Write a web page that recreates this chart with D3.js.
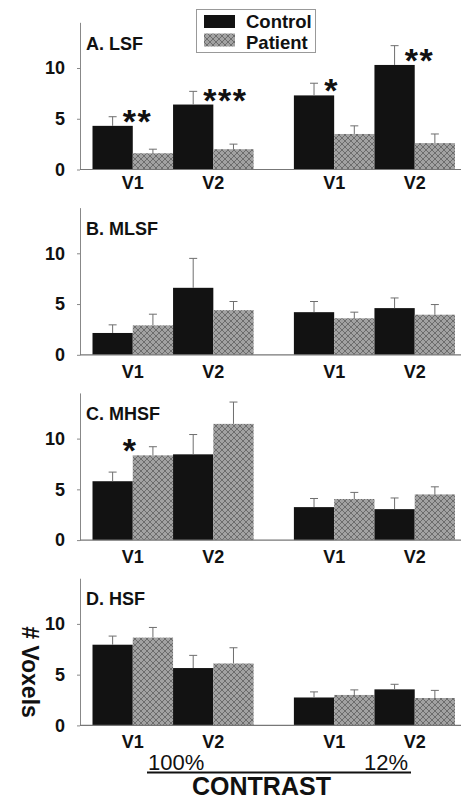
<!DOCTYPE html>
<html>
<head>
<meta charset="utf-8">
<script src="https://cdn.jsdelivr.net/npm/d3@7"></script>
<style>
body{margin:0;background:#fff;}
svg{display:block;}
text{font-family:"Liberation Sans",Arial,sans-serif;}
</style>
</head>
<body>
<div id="chart"></div>
<script>
// data, values; columns are [100% V1, 100% V2, 12% V1, 12% V2]
var contrasts = ["100%", "12%"];
var areas = ["V1", "V2"];
var groups = ["Control", "Patient"];
var panelTitles = ["A. LSF", "B. MLSF", "C. MHSF", "D. HSF"];
var yTicks = [0, 5, 10];

var controlMean = [[4.3, 6.4, 7.3, 10.3], [2.15, 6.6, 4.2, 4.6], [5.8, 8.45, 3.25, 3.05], [7.95, 5.65, 2.75, 3.55]];
var controlErr  = [[0.9, 1.3, 1.2, 1.9], [0.8, 2.9, 1.05, 1.0], [0.9, 1.95, 0.85, 1.1], [0.85, 1.25, 0.55, 0.5]];
var patientMean = [[1.6, 2.0, 3.5, 2.6], [2.9, 4.4, 3.6, 3.95], [8.35, 11.45, 4.05, 4.5], [8.65, 6.1, 3.0, 2.7]];
var patientErr  = [[0.4, 0.5, 0.8, 0.9], [1.1, 0.85, 0.6, 1.0], [0.85, 2.15, 0.65, 0.75], [1.0, 1.55, 0.5, 0.75]];

// significance stars: panel, contrast, area, label
var stars = [
	{panel: 0, contrast: "100%", area: "V1", label: "**"},
	{panel: 0, contrast: "100%", area: "V2", label: "***"},
	{panel: 0, contrast: "12%", area: "V1", label: "*"},
	{panel: 0, contrast: "12%", area: "V2", label: "**"},
	{panel: 2, contrast: "100%", area: "V1", label: "*"}
];

var w = 461, h = 801;
var axisX = 80;
var firstBase = 169.5, panelStep = 185.3;
var pxPerUnit = 10.15, yMax = 14.5;

var svg = d3.select("#chart").append("svg")
	.attr("width", w)
	.attr("height", h);

// cross hatch for patient bars
var pat = svg.append("defs").append("pattern")
	.attr("id", "hatch")
	.attr("patternUnits", "userSpaceOnUse")
	.attr("width", 6)
	.attr("height", 6);
pat.append("rect").attr("width", 6).attr("height", 6).attr("fill", "#a2a2a2");
pat.append("path")
	.attr("d", "M0,0L6,6M6,0L0,6M-1,5L1,7M5,-1L7,1M-1,1L1,-1M5,7L7,5")
	.attr("stroke", "#666")
	.attr("stroke-width", 0.9);

var xOuter = d3.scaleBand().domain(contrasts).range([92.5, 455]).paddingInner(0.2).paddingOuter(0);
var xArea = d3.scaleBand().domain(areas).range([0, xOuter.bandwidth()]);
var xGroup = d3.scaleBand().domain(groups).range([0, xArea.bandwidth()]);

function rowsFor(p){
	var rows = [];
	contrasts.forEach(function(c, ci){
		areas.forEach(function(a, ai){
			var k = ci*2 + ai;
			rows.push({contrast: c, area: a, group: "Control", mean: controlMean[p][k], err: controlErr[p][k]});
			rows.push({contrast: c, area: a, group: "Patient", mean: patientMean[p][k], err: patientErr[p][k]});
		});
	});
	return rows;
}
function barX(d){ return xOuter(d.contrast) + xArea(d.area) + xGroup(d.group); }

panelTitles.forEach(function(title, p){
	var base = firstBase + p*panelStep;
	var y = d3.scaleLinear().domain([0, yMax]).range([base, base - yMax*pxPerUnit]);
	var g = svg.append("g").attr("class", "panel p"+p);
	var rows = rowsFor(p);

	// y axis
	var ax = g.append("g")
		.attr("transform", "translate(" + axisX + ",0)")
		.call(d3.axisLeft(y).tickValues(yTicks).tickSize(3).tickSizeOuter(0).tickPadding(12));
	ax.select(".domain").attr("stroke", "#888");
	ax.selectAll(".tick line").attr("stroke", "#888");
	ax.selectAll(".tick text")
		.attr("fill", "#111")
		.attr("font-size", 18)
		.attr("font-weight", "bold")
		.attr("font-family", "Liberation Sans, Arial, sans-serif");

	// bars
	g.selectAll("rect.bar")
		.data(rows)
		.enter()
		.append("rect")
		.attr("class", "bar")
		.attr("x", barX)
		.attr("y", function(d){ return y(d.mean); })
		.attr("width", xGroup.bandwidth())
		.attr("height", function(d){ return base - y(d.mean); })
		.attr("fill", function(d){ return d.group === "Control" ? "#121212" : "url(#hatch)"; });

	// error bars (upper only)
	var eb = g.selectAll("g.err").data(rows).enter().append("g").attr("class", "err")
		.attr("stroke", "#6e6e6e").attr("stroke-width", 1);
	eb.append("line")
		.attr("x1", function(d){ return barX(d) + xGroup.bandwidth()/2; })
		.attr("x2", function(d){ return barX(d) + xGroup.bandwidth()/2; })
		.attr("y1", function(d){ return y(d.mean); })
		.attr("y2", function(d){ return y(d.mean + d.err); });
	eb.append("line")
		.attr("x1", function(d){ return barX(d) + xGroup.bandwidth()/2 - 4; })
		.attr("x2", function(d){ return barX(d) + xGroup.bandwidth()/2 + 4; })
		.attr("y1", function(d){ return y(d.mean + d.err); })
		.attr("y2", function(d){ return y(d.mean + d.err); });

	// x baseline
	g.append("line")
		.attr("x1", axisX).attr("x2", w)
		.attr("y1", base).attr("y2", base)
		.attr("stroke", "#777").attr("stroke-width", 1.2);

	// area labels
	var labs = [];
	contrasts.forEach(function(c){ areas.forEach(function(a){ labs.push({contrast: c, area: a}); }); });
	g.selectAll("text.area")
		.data(labs)
		.enter()
		.append("text")
		.attr("class", "area")
		.attr("x", function(d){ return xOuter(d.contrast) + xArea(d.area) + xArea.bandwidth()/2; })
		.attr("y", base + (p === 0 ? 19 : 23))
		.attr("text-anchor", "middle")
		.attr("font-size", 18)
		.attr("font-weight", "bold")
		.attr("fill", "#111")
		.text(function(d){ return d.area; });

	// panel title
	g.append("text")
		.attr("x", 86)
		.attr("y", base - 120)
		.attr("font-size", 18)
		.attr("font-weight", "bold")
		.attr("fill", "#111")
		.text(title);

	// stars
	g.selectAll("text.star")
		.data(stars.filter(function(s){ return s.panel === p; }))
		.enter()
		.append("text")
		.attr("class", "star")
		.attr("x", function(d){ return xOuter(d.contrast) + xArea(d.area) + xArea.bandwidth()/2 - 10; })
		.attr("y", function(d){
			var k = contrasts.indexOf(d.contrast)*2 + areas.indexOf(d.area);
			return y(Math.max(controlMean[p][k], patientMean[p][k])) + 7;
		})
		.attr("font-size", 34)
		.attr("font-weight", "bold")
		.attr("letter-spacing", 1.5)
		.attr("fill", "#111")
		.text(function(d){ return d.label; });
});

// legend
var leg = svg.append("g").attr("class", "legend");
leg.append("rect")
	.attr("x", 196.5).attr("y", 9.5).attr("width", 119).attr("height", 43)
	.attr("fill", "#fff").attr("stroke", "#999");
leg.selectAll("rect.sw")
	.data(groups)
	.enter()
	.append("rect")
	.attr("class", "sw")
	.attr("x", 204)
	.attr("y", function(d, i){ return 15 + i*18.5; })
	.attr("width", 31)
	.attr("height", 13)
	.attr("fill", function(d){ return d === "Control" ? "#121212" : "url(#hatch)"; });
leg.selectAll("text")
	.data(groups)
	.enter()
	.append("text")
	.attr("x", 246)
	.attr("y", function(d, i){ return 28 + i*20.5; })
	.attr("font-size", 18.5)
	.attr("font-weight", "bold")
	.attr("fill", "#111")
	.text(function(d){ return d; });

// y label
svg.append("text")
	.attr("transform", "translate(22,672) rotate(90)")
	.attr("text-anchor", "middle")
	.attr("font-size", 23)
	.attr("font-weight", "bold")
	.attr("fill", "#111")
	.text("# Voxels");

// contrast labels
svg.append("text").attr("x", 148).attr("y", 769.5).attr("font-size", 22).attr("fill", "#111").text(contrasts[0]);
svg.append("text").attr("x", 408).attr("y", 769.5).attr("text-anchor", "end").attr("font-size", 22).attr("fill", "#111").text(contrasts[1]);
svg.append("line").attr("x1", 147).attr("x2", 411).attr("y1", 772.5).attr("y2", 772.5).attr("stroke", "#111").attr("stroke-width", 2);
svg.append("text")
	.attr("x", 261.5).attr("y", 795)
	.attr("text-anchor", "middle")
	.attr("font-size", 25)
	.attr("font-weight", "bold")
	.attr("fill", "#111")
	.text("CONTRAST");
</script>
</body>
</html>
